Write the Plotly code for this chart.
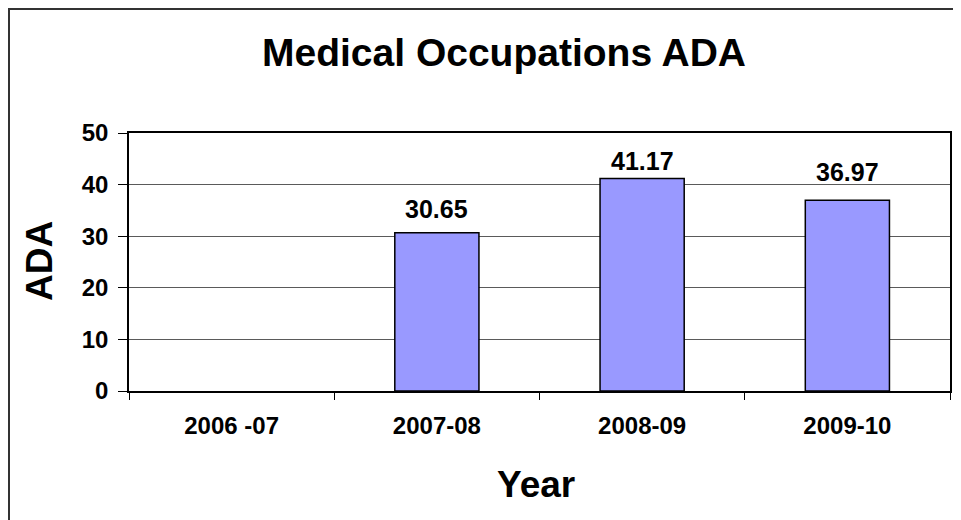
import plotly.graph_objects as go

categories = ["2006 -07", "2007-08", "2008-09", "2009-10"]
ada_values = [None, 30.65, 41.17, 36.97]
label_texts = ["", "30.65", "41.17", "36.97"]
y_ticks = [0, 10, 20, 30, 40, 50]

FONT = "Liberation Sans, Arial, sans-serif"
LABEL_SHIFTS = [8, 8, 2, 12]  # pixel offsets of data labels above bars (styling)

OFF = 8  # page offset of the figure (body margin)
W, H = 961, 520
L, T = 129 - OFF, 133 - OFF
R = W - (950 - OFF)
B = H - (391 - OFF)
PW, PH = W - L - R, H - T - B

def px(x):
    return (x - OFF - L) / PW

def py(y):
    return (H - B - (y - OFF)) / PH

fig = go.Figure()
fig.add_trace(go.Bar(
    x=categories,
    y=ada_values,
    width=0.41,
    marker=dict(color="#9999FF", line=dict(color="#000000", width=1.5)),
    hoverinfo="x+y",
))

annotations = []
for c, v, t, s in zip(categories, ada_values, label_texts, LABEL_SHIFTS):
    if v is None:
        continue
    annotations.append(dict(
        x=c, y=v, xref="x", yref="y", text=t, showarrow=False,
        yanchor="bottom", yshift=s,
        font=dict(family=FONT, size=25, color="black", weight="bold"),
    ))

annotations += [
    dict(x=px(504), y=py(53), xref="paper", yref="paper", text="Medical Occupations ADA",
         showarrow=False, xanchor="center", yanchor="middle",
         font=dict(family=FONT, size=39, color="black", weight="bold")),
    dict(x=px(536), y=py(484), xref="paper", yref="paper", text="Year",
         showarrow=False, xanchor="center", yanchor="middle",
         font=dict(family=FONT, size=37, color="black", weight="bold")),
    dict(x=px(39), y=py(261), xref="paper", yref="paper", text="ADA", textangle=-90,
         showarrow=False, xanchor="center", yanchor="middle",
         font=dict(family=FONT, size=37, color="black", weight="bold")),
]

shapes = [
    dict(type="line", xref="paper", yref="paper", x0=px(9), x1=px(9), y0=py(8.5), y1=py(540),
         line=dict(color="#333333", width=2)),
    dict(type="line", xref="paper", yref="paper", x0=px(8), x1=px(990), y0=py(9), y1=py(9),
         line=dict(color="#333333", width=2)),
]

fig.update_layout(
    width=W, height=H,
    margin=dict(l=L, r=R, t=T, b=B, pad=0),
    paper_bgcolor="white", plot_bgcolor="white",
    showlegend=False,
    annotations=annotations,
    shapes=shapes,
    font=dict(family=FONT, color="black"),
)
fig.update_xaxes(
    type="category", categoryorder="array", categoryarray=categories,
    tickson="boundaries", ticks="outside", ticklen=7, tickcolor="#000000", tickwidth=1,
    showline=True, linecolor="#000000", linewidth=1.5, mirror=True,
    showgrid=False, ticklabelstandoff=12,
    tickfont=dict(family=FONT, size=24, color="black", weight="bold"),
)
fig.update_yaxes(
    range=[0, 50], tickvals=y_ticks, ticks="outside", ticklen=9, tickcolor="#000000", tickwidth=1,
    showline=True, linecolor="#000000", linewidth=1.5, mirror=True,
    showgrid=True, gridcolor="#5a5a5a", gridwidth=1, zeroline=False,
    ticklabelstandoff=5,
    tickfont=dict(family=FONT, size=24, color="black", weight="bold"),
)

fig.write_html("out.html")
